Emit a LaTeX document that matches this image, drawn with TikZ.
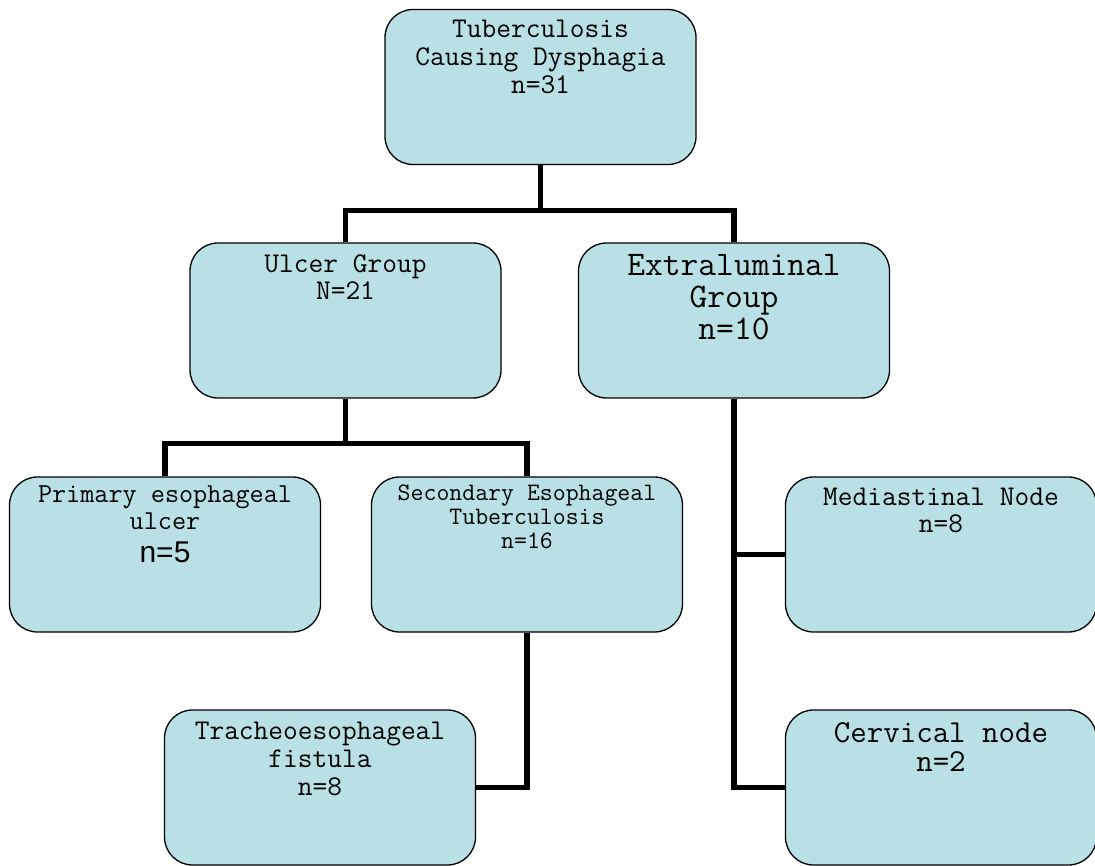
\documentclass[tikz,border=0pt]{standalone}
\usepackage{fontspec}
\usetikzlibrary{positioning}
\newfontfamily\arialfont{Liberation Sans}
\definecolor{boxblue}{RGB}{185,224,228}
\newcommand{\capsize}[2]{\ttfamily\fontsize{#1}{#2}\selectfont}

\begin{document}
\begin{tikzpicture}[x=1pt, y=-1pt,
    group/.style ={draw, line width=1.3pt, rounded corners=28pt, fill=boxblue,
                   minimum width=311pt, minimum height=155pt, inner sep=0pt},
    caption/.style ={align=center, inner sep=0pt},
    link/.style ={line width=5.5pt}]
   \useasboundingbox (0,0) rectangle (1095,866);
   % boxes
   \node[group] (top) at (540.5,87) {};
   \node[group] (ulcer) at (345.5,320.5) {};
   \node[group] (extra) at (734,320.5) {};
   \node[group] (prim) at (165,554.5) {};
   \node[group] (second) at (527,554.5) {};
   \node[group] (medi) at (941,554.5) {};
   \node[group] (trach) at (320,787.5) {};
   \node[group] (cerv) at (941,787.5) {};
   % texts
   \node[caption, font=\capsize{28.6}{28}, below=11pt of top.north] (toptext)
     {Tuberculosis\\Causing Dysphagia\\n=31};
   \node[caption, font=\capsize{28.6}{27}, below=12pt of ulcer.north] (ulcertext)
     {Ulcer Group\\N=21};
   \node[caption, font=\capsize{34.5}{32}, below=12pt of extra.north] (extratext)
     {Extraluminal\\Group\\n=10};
   \node[caption, font=\capsize{27.4}{27}, below=9pt of prim.north] (primtext)
     {Primary esophageal\\ulcer\\[6pt]{\arialfont\fontsize{30}{30}\selectfont n=5}};
   \node[caption, font=\capsize{25.1}{24}, below=8pt of second.north] (secondtext)
     {Secondary Esophageal\\Tuberculosis\\n=16};
   \node[caption, font=\capsize{28.6}{27}, below=11.5pt of medi.north] (meditext)
     {Mediastinal Node\\n=8};
   \node[caption, font=\capsize{28.6}{28}, below=12.5pt of trach.north] (trachtext)
     {Tracheoesophageal\\fistula\\n=8};
   \node[caption, font=\capsize{32}{29}, below=13.5pt of cerv.north] (cervtext)
     {Cervical node\\n=2};
   % connectors
   \draw[link] (top.south) -- ++(0,45.5) -| (ulcer.north);
   \draw[link] (top.south) -- ++(0,45.5) -| (extra.north);
   \draw[link] (ulcer.south) -- ++(0,45) -| (prim.north);
   \draw[link] (ulcer.south) -- ++(0,45) -| (second.north);
   \draw[link] (second.south) |- (trach.east);
   \draw[link] (extra.south) |- (medi.west);
   \draw[link] (extra.south) |- (cerv.west);
 \end{tikzpicture}
\end{document}
